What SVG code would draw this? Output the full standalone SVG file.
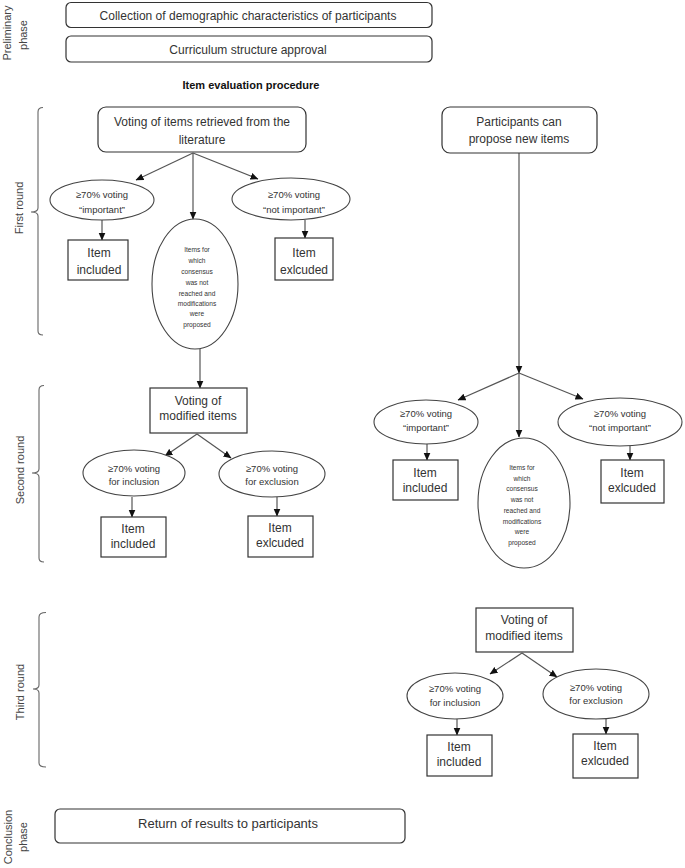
<svg xmlns="http://www.w3.org/2000/svg" width="685" height="868" viewBox="0 0 685 868">
<style>
text{font-family:"Liberation Sans",Arial,sans-serif;fill:#333;text-anchor:middle;dominant-baseline:central}
.t{font-size:12px}
.e{font-size:9.5px}
.s{font-size:6.6px}
.b{font-size:11px;font-weight:bold;fill:#111}
.lab{font-size:11px;fill:#444;dominant-baseline:auto}
.box{fill:#fff;stroke:#333;stroke-width:1.2}
.ell{fill:#fff;stroke:#444;stroke-width:1.1}
.c{fill:none;stroke:#555;stroke-width:1.2}
.br{fill:none;stroke:#666;stroke-width:1.1}
</style>
<defs>
<marker id="ah" markerWidth="8" markerHeight="8" refX="7.5" refY="4" orient="auto" markerUnits="userSpaceOnUse">
<path d="M0,0.5 L8,4 L0,7.5 Z" fill="#111"/>
</marker>
</defs>
<rect width="685" height="868" fill="#fff"/>

<g id="labels">
<text class="lab" transform="translate(11,33) rotate(-90)">Preliminary</text>
<text class="lab" transform="translate(27,35) rotate(-90)">phase</text>
<text class="lab" transform="translate(23,208) rotate(-90)">First round</text>
<text class="lab" transform="translate(24,470) rotate(-90)">Second round</text>
<text class="lab" transform="translate(24,692) rotate(-90)">Third round</text>
<text class="lab" transform="translate(12,837) rotate(-90)">Conclusion</text>
<text class="lab" transform="translate(27,837) rotate(-90)">phase</text>
<text class="b" x="251" y="85">Item evaluation procedure</text>
</g>

<g id="brackets">
<path class="br" d="M43,107.5 Q38,107.5 38,112 V208 Q38,212 31,212 Q38,212 38,216 V331 Q38,335 43,335"/>
<path class="br" d="M44,385.5 Q39,385.5 39,390 V469 Q39,473 32,473 Q39,473 39,477 V558 Q39,562 44,562"/>
<path class="br" d="M46,612.5 Q39,612.5 39,617 V685 Q39,689 33,689 Q39,689 39,693 V763 Q39,767 46,767"/>
</g>

<g id="connectors">
<path class="c" d="M193,153 L136,180" marker-end="url(#ah)"/>
<path class="c" d="M193,153 L258,179" marker-end="url(#ah)"/>
<path class="c" d="M193,153 L193,219" marker-end="url(#ah)"/>
<path class="c" d="M102,220 L102,240" marker-end="url(#ah)"/>
<path class="c" d="M305,220 L305,238" marker-end="url(#ah)"/>
<path class="c" d="M200,349 L200,388" marker-end="url(#ah)"/>
<path class="c" d="M197,434 L165,456" marker-end="url(#ah)"/>
<path class="c" d="M197,434 L231,458" marker-end="url(#ah)"/>
<path class="c" d="M132,497 L132,517" marker-end="url(#ah)"/>
<path class="c" d="M277,497 L277,516" marker-end="url(#ah)"/>
<path class="c" d="M519,153 L519,373" marker-end="url(#ah)"/>
<path class="c" d="M519,373 L458,400" marker-end="url(#ah)"/>
<path class="c" d="M519,373 L519,437" marker-end="url(#ah)"/>
<path class="c" d="M519,373 L583,399" marker-end="url(#ah)"/>
<path class="c" d="M427,444 L427,460" marker-end="url(#ah)"/>
<path class="c" d="M630,446 L630,460" marker-end="url(#ah)"/>
<path class="c" d="M522,653 L490,674" marker-end="url(#ah)"/>
<path class="c" d="M522,653 L557,677" marker-end="url(#ah)"/>
<path class="c" d="M457,719 L457,735" marker-end="url(#ah)"/>
<path class="c" d="M606,719 L606,734" marker-end="url(#ah)"/>
</g>

<g id="n-demographic">
<rect class="box" x="66" y="2.5" width="366" height="25" rx="5"/>
<text class="t" x="248" y="15.5">Collection of demographic characteristics of participants</text>
</g>
<g id="n-curriculum">
<rect class="box" x="66" y="36" width="366" height="26" rx="5"/>
<text class="t" x="248" y="49.5">Curriculum structure approval</text>
</g>

<g id="n-voting-lit">
<rect class="box" x="98" y="107" width="208" height="45" rx="8"/>
<text class="t" x="202" y="122">Voting of items retrieved from the</text>
<text class="t" x="202" y="140">literature</text>
</g>
<g id="n-r1-imp">
<ellipse class="ell" cx="102" cy="200" rx="52" ry="20"/>
<text class="e" x="102" y="194">≥70% voting</text>
<text class="e" x="102" y="209">“important”</text>
</g>
<g id="n-r1-notimp">
<ellipse class="ell" cx="291" cy="199" rx="59" ry="21"/>
<text class="e" x="294" y="194">≥70% voting</text>
<text class="e" x="294" y="209">“not important”</text>
</g>
<g id="n-r1-mid">
<ellipse class="ell" cx="195" cy="284" rx="43" ry="65"/>
<text class="s" x="197" y="249">Items for</text>
<text class="s" x="197" y="260">which</text>
<text class="s" x="197" y="271">consensus</text>
<text class="s" x="197" y="282">was not</text>
<text class="s" x="197" y="293">reached and</text>
<text class="s" x="197" y="303">modifications</text>
<text class="s" x="197" y="313">were</text>
<text class="s" x="197" y="324">proposed</text>
</g>
<g id="n-r1-incl">
<rect class="box" x="68" y="240" width="60" height="40"/>
<text class="t" x="99" y="253">Item</text>
<text class="t" x="99" y="270">included</text>
</g>
<g id="n-r1-excl">
<rect class="box" x="275" y="238" width="58" height="42"/>
<text class="t" x="304" y="253">Item</text>
<text class="t" x="304" y="270">exlcuded</text>
</g>

<g id="n-r2-voting">
<rect class="box" x="150" y="388" width="97" height="45"/>
<text class="t" x="198" y="401">Voting of</text>
<text class="t" x="198" y="416">modified items</text>
</g>
<g id="n-r2-incl-e">
<ellipse class="ell" cx="134" cy="473" rx="51" ry="23"/>
<text class="e" x="134" y="468">≥70% voting</text>
<text class="e" x="134" y="481">for inclusion</text>
</g>
<g id="n-r2-excl-e">
<ellipse class="ell" cx="272" cy="474" rx="53" ry="23"/>
<text class="e" x="272" y="468">≥70% voting</text>
<text class="e" x="272" y="481">for exclusion</text>
</g>
<g id="n-r2-incl">
<rect class="box" x="101" y="517" width="65" height="40"/>
<text class="t" x="133" y="529">Item</text>
<text class="t" x="133" y="544">included</text>
</g>
<g id="n-r2-excl">
<rect class="box" x="248" y="516" width="65" height="41"/>
<text class="t" x="280" y="528">Item</text>
<text class="t" x="280" y="543">exlcuded</text>
</g>

<g id="n-propose">
<rect class="box" x="442" y="107" width="155" height="46" rx="8"/>
<text class="t" x="519" y="122">Participants can</text>
<text class="t" x="519" y="139">propose new items</text>
</g>
<g id="n-p-imp">
<ellipse class="ell" cx="426" cy="422" rx="52" ry="22"/>
<text class="e" x="426" y="413">≥70% voting</text>
<text class="e" x="426" y="427">“important”</text>
</g>
<g id="n-p-notimp">
<ellipse class="ell" cx="620" cy="422" rx="62" ry="24"/>
<text class="e" x="620" y="413">≥70% voting</text>
<text class="e" x="620" y="427">“not important”</text>
</g>
<g id="n-p-mid">
<ellipse class="ell" cx="524" cy="503" rx="46" ry="65"/>
<text class="s" x="522" y="467">Items for</text>
<text class="s" x="522" y="478">which</text>
<text class="s" x="522" y="488">consensus</text>
<text class="s" x="522" y="499">was not</text>
<text class="s" x="522" y="510">reached and</text>
<text class="s" x="522" y="521">modifications</text>
<text class="s" x="522" y="531">were</text>
<text class="s" x="522" y="542">proposed</text>
</g>
<g id="n-p-incl">
<rect class="box" x="393" y="460" width="65" height="40"/>
<text class="t" x="425" y="473">Item</text>
<text class="t" x="425" y="488">included</text>
</g>
<g id="n-p-excl">
<rect class="box" x="601" y="460" width="63" height="43"/>
<text class="t" x="632" y="473">Item</text>
<text class="t" x="632" y="488">exlcuded</text>
</g>

<g id="n-r3-voting">
<rect class="box" x="476" y="608" width="97" height="44"/>
<text class="t" x="524" y="620">Voting of</text>
<text class="t" x="524" y="636">modified items</text>
</g>
<g id="n-r3-incl-e">
<ellipse class="ell" cx="455" cy="696" rx="48" ry="23"/>
<text class="e" x="455" y="688">≥70% voting</text>
<text class="e" x="455" y="702">for inclusion</text>
</g>
<g id="n-r3-excl-e">
<ellipse class="ell" cx="596" cy="694" rx="53" ry="25"/>
<text class="e" x="596" y="687">≥70% voting</text>
<text class="e" x="596" y="700">for exclusion</text>
</g>
<g id="n-r3-incl">
<rect class="box" x="427" y="735" width="65" height="41"/>
<text class="t" x="459" y="747">Item</text>
<text class="t" x="459" y="762">included</text>
</g>
<g id="n-r3-excl">
<rect class="box" x="573" y="734" width="65" height="44"/>
<text class="t" x="605" y="746">Item</text>
<text class="t" x="605" y="761">exlcuded</text>
</g>

<g id="n-return">
<rect class="box" x="55" y="809" width="350" height="34" rx="5"/>
<text class="t" x="228" y="823" style="font-size:13px">Return of results to participants</text>
</g>
</svg>
